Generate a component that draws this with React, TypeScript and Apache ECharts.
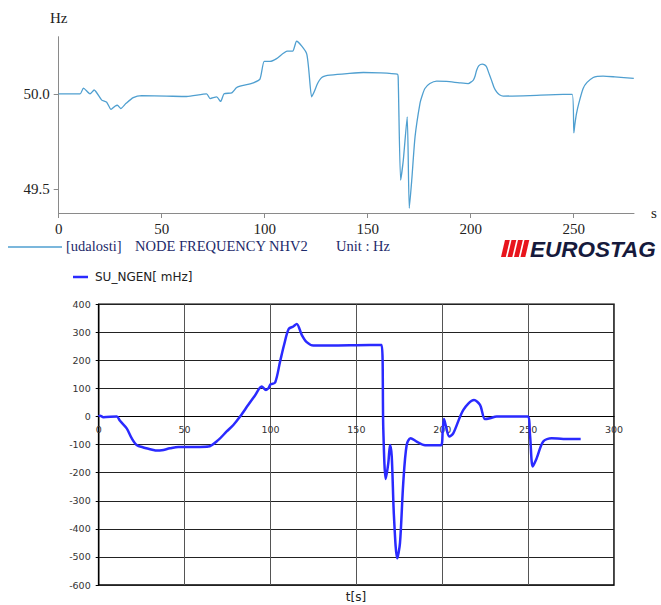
import React, { useEffect, useRef } from "react";
import * as echarts from "echarts";

// ---- Top chart: NODE FREQUENCY NHV2 (Hz) ----
const TOP_T = [0,10.4,12,15.2,17.2,20.9,23.3,25.4,27.3,28.5,30.1,32.7,36.2,40.3,52.4,62.1,71.8,73.5,76.7,78.6,80.3,84,86.4,89.6,94.5,97.7,99.8,102.6,105.8,111,113.6,115.5,120.4,122.8,123.6,124.4,125.5,126.5,127.7,129.5,131.7,140,147.9,156,164.4,164.8,166,167.3,169.2,170.2,171.4,173,175.4,176.6,177.8,180.2,183.5,188.3,194.5,198.8,201.3,202.2,202.9,204,205.6,206.8,207.7,208.8,210.1,211.3,212.6,214,215.8,228.7,244.9,249.3,250.1,250.6,251.4,252.5,254.6,256.5,259.5,261.5,264.3,270,279.2];
const TOP_F = [50.0,50.0,50.03,50.0,50.02,49.967,49.956,49.918,49.935,49.94,49.923,49.95,49.98,49.99,49.988,49.986,50.0,49.975,49.984,49.96,50.0,50.005,50.033,50.044,50.058,50.077,50.17,50.17,50.185,50.224,50.224,50.276,50.21,49.984,50.0,50.02,50.05,50.07,50.086,50.094,50.098,50.106,50.112,50.11,50.103,50.09,49.547,49.652,49.879,49.399,49.547,49.774,49.95,49.995,50.028,50.054,50.067,50.065,50.058,50.054,50.072,50.095,50.124,50.148,50.156,50.152,50.142,50.11,50.072,50.035,50.01,49.995,49.988,49.991,49.997,49.997,49.795,49.84,49.897,49.95,50.028,50.06,50.086,50.092,50.093,50.089,50.081];
const TOP_X_TICKS = [0, 50, 100, 150, 200, 250];
const TOP_Y_TICKS = [49.5, 50.0];

// ---- Bottom chart: SU_NGEN [mHz] ----
const BOT_T = [0,0.8,2.7,10.5,12.4,16.3,19.2,22.1,26,31.8,33.8,36.7,41.5,46.4,51.2,59,63.8,69.7,74.5,78.4,82.3,87.1,91,94.9,97.4,98.8,100.1,102.7,105.6,107.9,110.6,113.3,115.3,118.2,121.1,125,134.7,157.9,164.7,165.7,167.1,168.6,169.6,170.6,171.9,173.8,175.4,177.3,179.3,181.6,185.1,190,199.3,200.3,201,202.2,204.1,206.4,212.3,218.5,222,224.9,227.8,231.7,249.7,251.1,252.7,255,258.8,263.7,270.5,280.6];
const BOT_V = [0,3,-2,0,-15,-42,-77,-101,-110,-119,-121,-120,-113,-108,-108,-108,-107,-83,-53,-30,0,42,75,107,95,101,115,121,196,255,312,321,330,291,265,253,253,255,255,-47,-222,-166,-101,-142,-356,-505,-451,-237,-101,-77,-89,-102,-102,-47,-9,-36,-71,-60,24,59,42,-9,-6,0,0,-65,-178,-148,-89,-77,-80,-80];

const TOP_LEGEND = ["[udalosti]", "NODE FREQUENCY NHV2", "Unit : Hz"];
const BOT_LEGEND = "SU_NGEN[ mHz]";
const BOT_X_TITLE = "t[s]";

const SERIF = "'Liberation Serif', 'DejaVu Serif', serif";
const SANS = "'DejaVu Sans', sans-serif";
const TOP_COLOR = "#4f9fd0";
const BOT_COLOR = "#2a2aff";
const NAVY = "#1d2a6a";

const B_TOP = 304.3;
const B_H = 280.7;
const B_MIN = -600;
const B_MAX = 400;

export default function App() {
  const ref = useRef<HTMLDivElement>(null);
  useEffect(() => {
    if (!ref.current) return;
    const chart = echarts.init(ref.current, undefined, { renderer: "svg" });
    const topData = TOP_T.map((t, i) => [t, TOP_F[i]]);
    const botData = BOT_T.map((t, i) => [t, BOT_V[i]]);
    const zeroOffset = -(B_H * (0 - B_MIN)) / (B_MAX - B_MIN);

    const redBars = [0, 1, 2, 3].map((i) => {
      const x0 = 501 + i * 6.5;
      return {
        type: "polygon",
        shape: { points: [[x0 + 4, 240], [x0 + 8.8, 240], [x0 + 4.8, 257], [x0, 257]] },
        style: { fill: "#e8141c" },
      };
    });

    chart.setOption({
      animation: false,
      grid: [
        { left: 58.7, top: 36.7, width: 575.3, height: 176.3, show: false },
        {
          left: 98.7, top: B_TOP, width: 515.3, height: B_H,
          show: true, borderColor: "#000", borderWidth: 1.5, backgroundColor: "transparent",
        },
      ],
      xAxis: [
        {
          type: "value", gridIndex: 0, min: 0, max: 279.3,
          axisLine: { show: true, onZero: false, lineStyle: { color: "#8a8a8a", width: 1 } },
          axisTick: { show: true, length: 5, customValues: TOP_X_TICKS, lineStyle: { color: "#8a8a8a" } },
          axisLabel: {
            customValues: TOP_X_TICKS, margin: 8,
            fontFamily: SERIF, fontSize: 15, color: "#222",
          },
          splitLine: { show: false },
        },
        {
          type: "value", gridIndex: 1, min: 0, max: 300, interval: 50,
          position: "bottom", offset: zeroOffset,
          axisLine: { show: true, onZero: false, lineStyle: { color: "#000", width: 1.2 } },
          axisTick: { show: false },
          axisLabel: { margin: 8, fontFamily: SANS, fontSize: 9.5, color: "#333", showMaxLabel: true, showMinLabel: true },
          splitLine: { show: true, lineStyle: { color: "#555", width: 1 } },
        },
      ],
      yAxis: [
        {
          type: "value", gridIndex: 0, min: 49.374, max: 50.3,
          axisLine: { show: true, onZero: false, lineStyle: { color: "#8a8a8a", width: 1 } },
          axisTick: { show: true, length: 5, customValues: TOP_Y_TICKS, lineStyle: { color: "#8a8a8a" } },
          axisLabel: {
            customValues: TOP_Y_TICKS, margin: 9,
            fontFamily: SERIF, fontSize: 15, color: "#222",
            formatter: (v: number) => v.toFixed(1),
          },
          splitLine: { show: false },
        },
        {
          type: "value", gridIndex: 1, min: B_MIN, max: B_MAX, interval: 100,
          axisLine: { show: true, onZero: false, lineStyle: { color: "#000", width: 1.2 } },
          axisTick: { show: true, length: 3, lineStyle: { color: "#000" } },
          axisLabel: { margin: 8, fontFamily: SANS, fontSize: 9.5, color: "#333" },
          splitLine: { show: true, lineStyle: { color: "#222", width: 1 } },
        },
      ],
      series: [
        {
          type: "line", xAxisIndex: 0, yAxisIndex: 0, data: topData,
          showSymbol: false, symbol: "none", smooth: 0.2,
          lineStyle: { color: TOP_COLOR, width: 1.3 },
        },
        {
          type: "line", xAxisIndex: 1, yAxisIndex: 1, data: botData,
          showSymbol: false, symbol: "none", smooth: 0.3,
          lineStyle: { color: BOT_COLOR, width: 2.5 },
        },
      ],
      graphic: [
        { type: "text", x: 50, y: 18, style: { text: "Hz", font: `15px ${SERIF}`, fill: "#222", verticalAlign: "middle" } },
        { type: "text", x: 651, y: 213, style: { text: "s", font: `15px ${SERIF}`, fill: "#222", verticalAlign: "middle" } },
        { type: "line", shape: { x1: 8, y1: 247, x2: 62, y2: 247 }, style: { stroke: TOP_COLOR, lineWidth: 1.3 } },
        { type: "text", x: 66, y: 246, style: { text: TOP_LEGEND[0], font: `14.5px ${SERIF}`, fill: NAVY, verticalAlign: "middle" } },
        { type: "text", x: 135, y: 246, style: { text: TOP_LEGEND[1], font: `14.5px ${SERIF}`, fill: NAVY, verticalAlign: "middle" } },
        { type: "text", x: 336, y: 246, style: { text: TOP_LEGEND[2], font: `14.5px ${SERIF}`, fill: NAVY, verticalAlign: "middle" } },
        ...redBars,
        {
          type: "text", x: 530, y: 249,
          style: { text: "EUROSTAG", font: `italic bold 22.5px 'Liberation Sans', sans-serif`, fill: "#161a3c", verticalAlign: "middle" },
        },
        { type: "line", shape: { x1: 73, y1: 277, x2: 88, y2: 277 }, style: { stroke: BOT_COLOR, lineWidth: 2.5 } },
        { type: "text", x: 95, y: 277, style: { text: BOT_LEGEND, font: `12px ${SANS}`, fill: "#222", verticalAlign: "middle" } },
        { type: "text", x: 356, y: 597, style: { text: BOT_X_TITLE, font: `12px ${SANS}`, fill: "#222", align: "center", verticalAlign: "middle" } },
      ],
    });
    return () => chart.dispose();
  }, []);
  return (
    <div
      ref={ref}
      style={{ position: "absolute", left: 0, top: 0, width: 661, height: 605, background: "#fff" }}
    />
  );
}
